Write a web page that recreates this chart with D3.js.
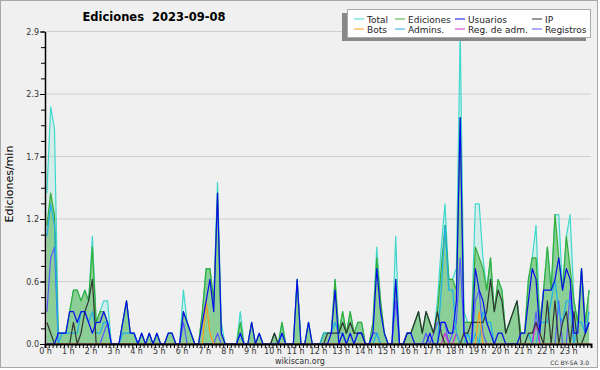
<!DOCTYPE html>
<html>
<head>
<meta charset="utf-8">
<script src="https://cdn.jsdelivr.net/npm/d3@7"></script>
<style>
  body { margin: 0; background: #fff; }
  svg { display: block; }
  text { font-family: "DejaVu Sans", sans-serif; }
</style>
</head>
<body>
<svg id="chart" width="600" height="370"></svg>
<script>
// 10-minute slots, 0:00 .. 23:50, values in edits/min
const total = [
  1.4,2.2,2.0,0.1,0.1,0.1,0.3,0.5,0.5,0.4,0.5,0.4,
  1.0,0.2,0.3,0.4,0.4,0,0,0,0.2,0.4,0.1,0.1,
  0,0.1,0,0.1,0,0.1,0,0,0.1,0.1,0,0,
  0.5,0.2,0.1,0,0,0.3,0.7,0.7,0.4,1.5,0.2,0,
  0,0,0,0.3,0,0,0.2,0,0.1,0,0,0,
  0.1,0,0.2,0,0,0,0.6,0,0,0.2,0,0,
  0,0.1,0.1,0.1,0.6,0.1,0.3,0.1,0.3,0.1,0.2,0.2,
  0,0,0.2,0.9,0.4,0.1,0,0,1.0,0,0,0.1,
  0.1,0.2,0.3,0.1,0.3,0.2,0.1,0.4,0.9,1.3,0.6,0.6,
  0.7,2.9,0.3,0.2,0.2,1.3,1.3,0.8,0.5,0.8,0.3,0.6,
  0.5,0.1,0.2,0.3,0.4,0.1,0.1,0.6,0.8,1.1,0.2,0.5,
  0.9,0.5,1.2,1.2,0.5,1.0,1.2,0.4,0.2,0.7,0.2,0.5
];
const edits = [
  1.1,1.4,1.2,0.1,0.1,0.1,0.3,0.5,0.5,0.4,0.5,0.4,
  0.9,0.2,0.3,0.3,0.2,0,0,0,0.2,0.4,0.1,0.1,
  0,0.1,0,0.1,0,0.1,0,0,0.1,0.1,0,0,
  0.3,0.2,0.1,0,0,0.3,0.7,0.7,0.4,1.4,0.1,0,
  0,0,0,0.2,0,0,0.2,0,0.1,0,0,0,
  0.1,0,0.2,0,0,0,0.6,0,0,0.2,0,0,
  0,0.1,0.1,0.1,0.6,0.1,0.3,0.1,0.3,0.1,0.2,0.2,
  0,0,0.2,0.8,0.4,0.1,0,0,0.6,0,0,0.1,
  0.1,0.2,0.3,0.1,0.3,0.2,0.1,0.3,0.7,1.1,0.6,0.6,
  0.5,2.1,0.2,0.2,0.2,0.9,0.8,0.7,0.5,0.8,0.3,0.6,
  0.5,0.1,0.2,0.3,0.4,0.1,0.1,0.6,0.8,0.8,0.2,0.5,
  0.9,0.5,1.2,0.8,0.5,1.0,0.7,0.4,0.2,0.7,0.2,0.5
];
const users = [
  0,0,0,0.1,0.1,0.1,0.3,0.3,0.2,0.3,0.3,0.2,
  0.1,0.2,0.2,0.3,0.2,0,0,0,0.2,0.4,0.1,0.1,
  0,0.1,0,0.1,0,0.1,0,0,0.1,0.1,0,0,
  0.3,0.2,0.1,0,0,0.2,0.4,0.6,0.3,1.4,0.1,0,
  0,0,0,0.1,0,0,0.2,0,0.1,0,0,0,
  0,0,0.1,0,0,0,0.6,0,0,0.2,0,0,
  0,0,0,0.1,0.5,0,0.1,0,0.1,0,0.1,0.1,
  0,0,0.1,0.7,0.3,0.1,0,0,0.6,0,0,0.1,
  0.1,0,0,0,0,0.1,0,0,0.2,0.2,0.1,0.1,
  0.4,2.1,0.1,0,0,0.7,0.5,0.4,0.2,0.1,0,0.1,
  0.1,0,0,0,0,0.1,0.1,0.4,0.7,0.6,0.1,0.5,
  0.5,0.5,0.6,0.8,0.5,0.7,0.6,0.1,0.1,0.7,0.1,0.2
];
const ip = [
  0.2,0.1,0,0,0,0,0,0.2,0,0.1,0.3,0.4,
  0.6,0,0,0,0,0,0,0,0,0,0,0,
  0,0,0,0,0,0,0,0,0,0,0,0,
  0,0,0,0,0,0,0,0,0,0,0,0,
  0,0,0,0,0,0,0,0,0,0,0,0,
  0.1,0,0,0,0,0,0,0,0,0,0,0,
  0,0,0.1,0.1,0.1,0.1,0.2,0.1,0.2,0.1,0.1,0.1,
  0,0,0,0,0,0,0,0,0,0,0,0.1,
  0.1,0.2,0.3,0.1,0.3,0.2,0.1,0.3,0.1,0,0,0,
  0,0,0.1,0.1,0.2,0.2,0.2,0.2,0.3,0.6,0.3,0.5,
  0.4,0.1,0.2,0.3,0.4,0,0,0.1,0.1,0.2,0.1,0,
  0.4,0,0.4,0,0.2,0.3,0,0.3,0,0,0.1,0.2
];
const admins = [
  1.0,1.3,1.1,0,0.1,0.1,0.1,0.1,0.1,0.3,0.3,0.2,
  0.3,0.1,0.1,0.2,0.2,0,0,0,0.1,0.1,0.1,0.1,
  0,0,0,0,0,0,0,0,0,0,0,0,
  0,0,0,0,0,0,0,0,0,0,0,0,
  0,0,0,0.1,0,0,0,0,0,0,0,0,
  0,0,0.1,0,0,0,0,0,0,0,0,0,
  0,0.1,0.1,0.1,0.2,0.1,0.1,0,0,0,0.1,0.1,
  0,0,0,0.1,0,0,0,0,0,0,0,0,
  0,0,0,0,0,0,0,0,0.5,1.1,0.5,0.5,
  0.1,0,0,0.1,0,0.1,0,0.3,0.2,0.2,0,0,
  0,0,0,0,0,0,0,0.1,0,0,0.2,0.2,
  0.2,0.4,0.6,0.3,0.2,0.4,0.4,0,0.2,0.2,0.1,0.3
];
const logs = [
  0.3,0.8,0.9,0,0,0,0,0,0,0,0,0,
  0,0,0,0.1,0.2,0,0,0,0,0,0,0,
  0,0,0,0,0,0,0,0,0,0,0,0,
  0.2,0,0,0,0,0,0,0,0,0.1,0,0,
  0,0,0,0.1,0,0,0,0,0,0,0,0,
  0,0,0,0,0,0,0,0,0,0,0,0,
  0,0,0,0,0,0,0,0,0,0,0,0,
  0,0,0.1,0.1,0,0,0,0,0.4,0,0,0,
  0,0,0,0,0.1,0,0.1,0.2,0.2,0.2,0,0.1,
  0.2,0.8,0.1,0,0,0.4,0.5,0.1,0,0,0,0,
  0,0,0,0,0,0,0,0,0,0.3,0,0,
  0,0,0,0.4,0,0,0.5,0,0,0,0,0
];
const bots = [
  0,0,0,0,0,0,0,0,0,0,0,0,
  0,0,0,0,0,0,0,0,0,0,0,0,
  0,0,0,0,0,0,0,0,0,0,0,0,
  0,0,0,0,0,0,0.4,0.1,0,0,0,0,
  0,0,0,0,0,0,0,0,0,0,0,0,
  0,0,0,0,0,0,0,0,0,0,0,0,
  0,0,0,0,0,0,0,0,0,0,0,0,
  0,0,0,0,0,0,0,0,0,0,0,0,
  0,0,0,0,0,0,0,0,0,0,0,0,
  0,0,0,0,0,0,0.3,0,0,0,0,0,
  0,0,0,0,0,0,0,0,0,0,0,0,
  0,0,0,0,0,0,0,0,0,0,0,0
];
const adminLogs = [
  0,0,0,0,0,0,0,0,0,0,0,0,
  0,0,0,0,0,0,0,0,0,0,0,0,
  0,0,0,0,0,0,0,0,0,0,0,0,
  0,0,0,0,0,0,0,0,0,0,0,0,
  0,0,0,0,0,0,0,0,0,0,0,0,
  0,0,0,0,0,0,0,0,0,0,0,0,
  0,0,0,0,0,0,0,0,0,0,0,0,
  0,0,0,0,0,0,0,0,0,0,0,0,
  0,0,0,0,0,0,0,0,0,0.1,0,0,
  0.1,0,0,0,0,0,0,0,0,0,0,0,
  0,0,0,0,0,0,0,0,0,0.2,0,0,
  0,0,0,0,0,0,0,0,0,0,0,0
];

const hours = [0,1,2,3,4,5,6,7,8,9,10,11,12,13,14,15,16,17,18,19,20,21,22,23];
const yTicks = [0, 0.58, 1.16, 1.74, 2.32, 2.9];

const svg = d3.select("#chart");

const x = d3.scaleLinear().domain([0, 24]).range([45, 591]);
const y = d3.scaleLinear().domain([0, 2.9]).range([344, 31.5]);
const slotX = (d, i) => x((i + 0.5) / 6);

// frame
svg.append("rect")
    .attr("x", 0.5).attr("y", 0.5)
    .attr("width", 597).attr("height", 367)
    .attr("fill", "#f0f0f0")
    .attr("stroke", "#a8a8a8")

// grid
svg.append("g").selectAll("line")
    .data(yTicks)
    .join("line")
    .attr("x1", 45).attr("x2", 591)
    .attr("y1", d => y(d)).attr("y2", d => y(d))
    .attr("stroke", "#cfcfcf")

const area = d3.area().x(slotX).y0(y(0)).y1(d => y(d))
const line = d3.line().x(slotX).y(d => y(d))

svg.append("path").datum(total).attr("d", area).attr("fill", "rgba(64,224,208,0.16)")
svg.append("path").datum(edits).attr("d", area).attr("fill", "rgba(50,170,50,0.45)")

const series = [
    {name: "Total", values: total, color: "#3fd8cc"},
    {name: "Ediciones", values: edits, color: "#35ad35"},
    {name: "Registros", values: logs, color: "#5a5aff"},
    {name: "Reg. de adm.", values: adminLogs, color: "#d030d0"},
    {name: "Admins.", values: admins, color: "#1fb0e8"},
    {name: "IP", values: ip, color: "#333333"},
    {name: "Bots", values: bots, color: "#ff9a1a"},
    {name: "Usuarios", values: users, color: "#0a0aee"}
]

svg.append("g").selectAll("path")
    .data(series)
    .join("path")
    .attr("d", d => line(d.values))
    .attr("fill", "none")
    .attr("stroke", d => d.color)
    .attr("stroke-width", 1.2)
    .attr("stroke-linejoin", "round")

// y axis
const yAxis = svg.append("g")
    .attr("transform", "translate(45,0)")
    .call(d3.axisLeft(y).tickValues(yTicks).tickSize(5).tickSizeOuter(0).tickPadding(1).tickFormat(d3.format(".1f")))
yAxis.select(".domain").attr("stroke", "#000").attr("stroke-width", 1.5)
yAxis.selectAll("text").attr("font-family", "DejaVu Sans").attr("font-size", 8).attr("fill", "#333")

svg.append("g")
    .attr("transform", "translate(45,0)")
    .call(d3.axisLeft(y).tickValues(d3.range(0, 2.9001, 0.145)).tickSize(4).tickFormat(""))
    .call(g => g.select(".domain").remove())

// x axis
svg.append("g")
    .attr("transform", "translate(0,344)")
    .call(d3.axisBottom(x).tickValues(d3.range(0, 24.001, 1 / 6)).tickSize(4).tickFormat(""))
    .call(g => g.select(".domain").attr("stroke-width", 2))

const xAxis = svg.append("g")
    .attr("transform", "translate(0,344)")
    .call(d3.axisBottom(x).tickValues(hours).tickSize(0).tickPadding(4).tickFormat(h => h + " h"))
xAxis.select(".domain").remove()
xAxis.selectAll("text").attr("font-family", "DejaVu Sans").attr("font-size", 8).attr("fill", "#333")

// titles
svg.append("text")
    .attr("x", 154).attr("y", 21)
    .attr("text-anchor", "middle")
    .attr("font-weight", "bold")
    .attr("font-size", 11.5)
    .style("white-space", "pre")
    .text("Ediciones  2023-09-08")

svg.append("text")
    .attr("transform", "translate(13,184) rotate(-90)")
    .attr("text-anchor", "middle")
    .attr("font-family", "DejaVu Sans Mono")
    .attr("font-size", 11)
    .text("Ediciones/min")

svg.append("text")
    .attr("x", 300).attr("y", 364)
    .attr("text-anchor", "middle")
    .attr("font-size", 8)
    .attr("fill", "#333")
    .text("wikiscan.org")

svg.append("text")
    .attr("x", 589).attr("y", 365)
    .attr("text-anchor", "end")
    .attr("font-size", 6)
    .attr("fill", "#333")
    .text("CC BY-SA 3.0")

// legend
const legendItems = [
    {name: "Total", color: "#3fd8cc"}, {name: "Ediciones", color: "#35ad35"},
    {name: "Usuarios", color: "#0a0aee"}, {name: "IP", color: "#333333"},
    {name: "Bots", color: "#ff9a1a"}, {name: "Admins.", color: "#1fb0e8"},
    {name: "Reg. de adm.", color: "#d030d0"}, {name: "Registros", color: "#5a5aff"}
]
const colX = [367, 408, 468, 545]
const legend = svg.append("g")
legend.append("rect").attr("x", 342).attr("y", 13).attr("width", 244).attr("height", 28).attr("fill", "#888")
legend.append("rect").attr("x", 347.5).attr("y", 9.5).attr("width", 243).attr("height", 28)
    .attr("fill", "#fff").attr("stroke", "#aaa")

const li = legend.selectAll(".li")
    .data(legendItems)
    .join("g")
    .attr("transform", (d, i) => "translate(" + colX[i % 4] + "," + (i < 4 ? 19 : 29) + ")")
li.append("line").attr("x1", -13).attr("x2", -3).attr("stroke", d => d.color).attr("stroke-width", 1)
li.append("text").attr("y", 4).attr("font-size", 9).attr("fill", "#222").text(d => d.name)
</script>
</body>
</html>
